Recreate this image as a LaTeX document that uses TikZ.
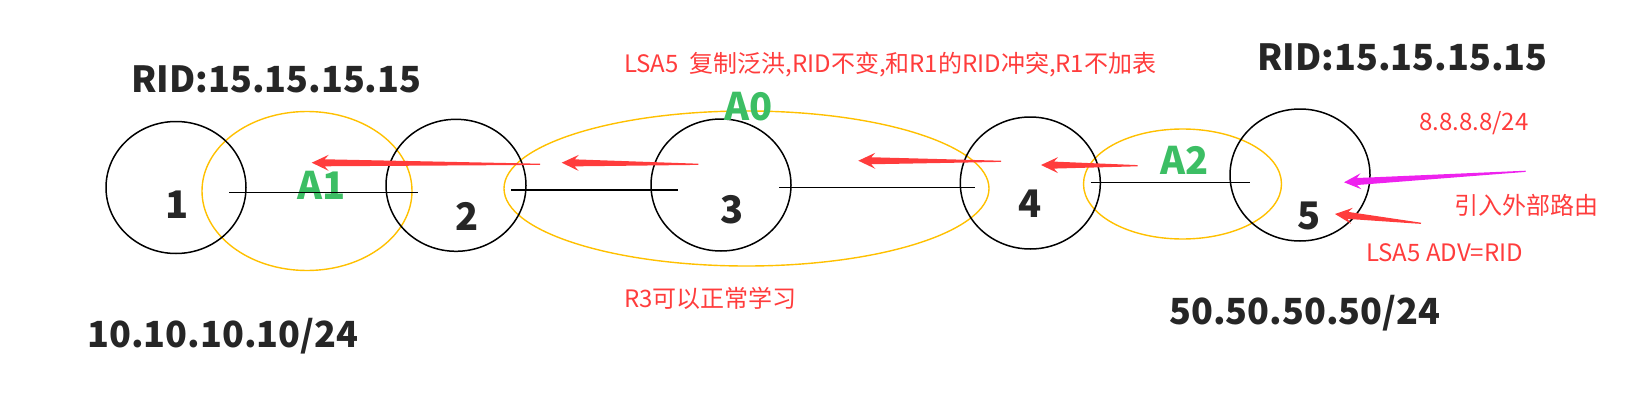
\documentclass[tikz,border=0pt]{standalone}
\usepackage{fontspec}
\setmainfont{Noto Sans CJK SC}
\usetikzlibrary{shapes.geometric,calc}
\definecolor{rred}{RGB}{255,60,60}
\definecolor{ggreen}{RGB}{60,190,100}
\definecolor{yel}{RGB}{255,192,0}
\definecolor{mag}{RGB}{238,34,238}
\definecolor{dgray}{RGB}{38,38,38}
\newcommand\farrow[3]{%
  \coordinate (fB) at ($(#3)!17pt!(#2)$);
  \coordinate (fJ) at ($(#3)!13pt!(#2)$);
  \fill[#1] (#3) -- ($(fB)!8pt!90:(#3)$) -- ($(fJ)!3.5pt!90:(#3)$) -- ($(#2)!0.6pt!90:(#3)$)
    -- ($(#2)!0.6pt!-90:(#3)$) -- ($(fJ)!3.5pt!-90:(#3)$) -- ($(fB)!8pt!-90:(#3)$) -- cycle;}
\tikzset{
  router/.style={ellipse, draw=black, line width=1.5pt, minimum width=140pt, minimum height=132pt, inner sep=0pt},
  area/.style={ellipse, draw=yel, line width=1.4pt, inner sep=0pt},
  num/.style={font=\fontsize{38}{40}\selectfont\bfseries, text=dgray, inner sep=0pt},
  bigtext/.style={font=\fontsize{36}{40}\selectfont\bfseries, text=dgray, inner sep=0pt, anchor=west},
  alabel/.style={font=\fontsize{38}{40}\selectfont\bfseries, text=ggreen, inner sep=0pt},
  note/.style={font=\fontsize{24}{26}\selectfont, text=rred, inner sep=0pt, anchor=west},
  link/.style={draw=black, line width=1.5pt}
}
\begin{document}
\begin{tikzpicture}[x=1pt,y=-1pt]
\useasboundingbox (0,0) rectangle (1635,412);
% areas
\node[area, minimum width=210pt, minimum height=159pt] (ar1) at (307,191) {};
\node[area, minimum width=485pt, minimum height=155pt] (ar0) at (746.5,188.5) {};
\node[area, minimum width=198pt, minimum height=110pt] (ar2) at (1182.5,184) {};
% routers
\node[router] (r1) at (176,187.5) {};
\node[router] (r2) at (456,185.3) {};
\node[router] (r3) at (721,185) {};
\node[router] (r4) at (1030.3,183) {};
\node[router] (r5) at (1300,175) {};
% numbers
\node[num] (n1) at (177.3,205) {1};
\node[num] (n2) at (467,216.7) {2};
\node[num] (n3) at (732.3,210) {3};
\node[num] (n4) at (1030,203.3) {4};
\node[num] (n5) at (1309.3,215.7) {5};
% area labels
\node[alabel] (a1) at (321.7,185.7) {A1};
\node[alabel] (a0) at (748.3,106.7) {A0};
\node[alabel] (a2) at (1185,160.7) {A2};
% links
\coordinate (l1a) at (229.3,192.7); \coordinate (l1b) at (417.7,192.7);
\coordinate (l2a) at (511,190.3);   \coordinate (l2b) at (677.7,190.3);
\coordinate (l3a) at (779,187.7);   \coordinate (l3b) at (975,187.7);
\coordinate (l4a) at (1090.7,182.7); \coordinate (l4b) at (1250,182.7);
\draw[link] (l1a) -- (l1b);
\draw[link, line width=2.2pt] (l2a) -- (l2b);
\draw[link] (l3a) -- (l3b);
\draw[link, line width=1.3pt] (l4a) -- (l4b);
% texts
\node[bigtext] (rid1) at (131,79.3) {RID:15.15.15.15};
\node[bigtext] (rid5) at (1257,57.3) {RID:15.15.15.15};
\node[bigtext] (net1) at (87,336) {10.10.10.10/24};
\node[bigtext] (net5) at (1169,313.5) {50.50.50.50/24};
\node[note] (t1) at (624,65) {LSA5\ \ 复制泛洪,RID不变,和R1的RID冲突,R1不加表};
\node[note] (t2) at (624,298.3) {R3可以正常学习};
\node[note] (t3) at (1419,123.3) {8.8.8.8/24};
\node[note] (t4) at (1454,205) {引入外部路由};
\node[note] (t5) at (1366,252.3) {LSA5 ADV=RID};
% arrows
\coordinate (f1t) at (540,164.3);   \coordinate (f1h) at (311.7,162.7);
\coordinate (f2t) at (698.3,164.3); \coordinate (f2h) at (561.7,162.7);
\coordinate (f3t) at (1001,161.3);  \coordinate (f3h) at (858.3,160.7);
\coordinate (f4t) at (1137.7,165.7); \coordinate (f4h) at (1041,165);
\coordinate (f5t) at (1525.7,171.3); \coordinate (f5h) at (1344,182.3);
\coordinate (f6t) at (1421,223.3);  \coordinate (f6h) at (1335,214);
\farrow{rred}{f1t}{f1h}
\farrow{rred}{f2t}{f2h}
\farrow{rred}{f3t}{f3h}
\farrow{rred}{f4t}{f4h}
\farrow{mag}{f5t}{f5h}
\farrow{rred}{f6t}{f6h}
\end{tikzpicture}
\end{document}
